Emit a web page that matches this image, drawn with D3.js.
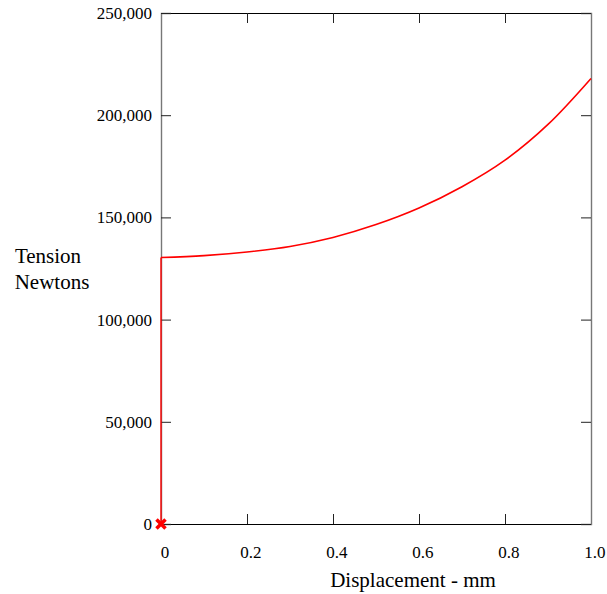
<!DOCTYPE html>
<html>
<head>
<meta charset="utf-8">
<script src="https://cdn.jsdelivr.net/npm/d3@7"></script>
<style>
  body { margin: 0; background: #fff; }
  text { font-family: "Liberation Serif", "Times New Roman", serif; }
</style>
</head>
<body>
<svg id="chart" width="607" height="594"></svg>
<script>
// displacement (mm) and tension (N)
var displacement = [0, 0.1, 0.2, 0.3, 0.4, 0.5, 0.6, 0.7, 0.8, 0.9, 1.0];
var tension = [130400, 131300, 133100, 135800, 140200, 146500, 154600, 165000, 178000, 195500, 218000];
var xTicks = [0, 0.2, 0.4, 0.6, 0.8, 1.0];
var yTicks = [0, 50000, 100000, 150000, 200000, 250000];
var startPoint = {x: 0, y: 0};

var svg = d3.select("#chart"),
	margin = {top: 13, right: 16, bottom: 70, left: 161},
	width = +svg.attr("width"),
	height = +svg.attr("height");

var xScale = d3.scaleLinear()
	.domain([0, 1])
	.range([margin.left, width - margin.right]);

var yScale = d3.scaleLinear()
	.domain([0, 250000])
	.range([height - margin.bottom, margin.top]);

var fmtY = d3.format(",");
var fmtX = d => d === 0 ? "0" : d3.format(".1f")(d);

// bottom axis, ticks point up into the plot
var xAxis = svg.append("g")
	.attr("transform", `translate(0, ${yScale(0)})`)
	.call(d3.axisBottom(xScale).tickValues(xTicks).tickSize(-10).tickPadding(22).tickFormat(fmtX));
xAxis.select(".domain").attr("stroke", "#000");
xAxis.selectAll(".tick text").attr("dx", "0.2em");

// top axis, no labels
svg.append("g")
	.attr("transform", `translate(0, ${yScale(250000)})`)
	.call(d3.axisTop(xScale).tickValues(xTicks).tickSize(-10).tickFormat(""));

// left axis
var yAxis = svg.append("g")
	.attr("transform", `translate(${xScale(0)}, 0)`)
	.call(d3.axisLeft(yScale).tickValues(yTicks).tickSize(-10).tickPadding(9).tickFormat(fmtY));
yAxis.select(".domain").attr("stroke", "#777").attr("stroke-width", 1.4);

// right axis
var rAxis = svg.append("g")
	.attr("transform", `translate(${xScale(1)}, 0)`)
	.call(d3.axisRight(yScale).tickValues(yTicks).tickSize(-10).tickFormat(""));
rAxis.select(".domain").attr("stroke", "#777").attr("stroke-width", 1.4);

svg.selectAll(".tick text")
	.attr("font-family", "Liberation Serif")
	.attr("font-size", "17px")
	.attr("fill", "#000");
svg.selectAll(".tick line").attr("stroke", "#222");

// vertical rise at zero displacement
svg.append("line")
	.attr("x1", xScale(startPoint.x))
	.attr("x2", xScale(displacement[0]))
	.attr("y1", yScale(startPoint.y))
	.attr("y2", yScale(tension[0]))
	.attr("stroke", "#f00")
	.attr("stroke-width", 1.4);

var line = d3.line()
	.x((d, i) => xScale(displacement[i]))
	.y(d => yScale(d))
	.curve(d3.curveCatmullRom);

svg.append("path")
	.datum(tension)
	.attr("fill", "none")
	.attr("stroke", "#f00")
	.attr("stroke-width", 1.6)
	.attr("d", line);

// start marker
svg.append("path")
	.attr("d", d3.symbol(d3.symbolX, 55)())
	.attr("transform", `translate(${xScale(startPoint.x)}, ${yScale(startPoint.y)})`)
	.attr("stroke", "#f00")
	.attr("stroke-width", 3.5)
	.attr("fill", "none");

//axis titles
svg.append("text")
	.attr("x", 413)
	.attr("y", 587)
	.attr("text-anchor", "middle")
	.attr("font-size", "21px")
	.text("Displacement - mm");

svg.append("text")
	.attr("x", 48)
	.attr("y", 263)
	.attr("text-anchor", "middle")
	.attr("font-size", "21px")
	.text("Tension");

svg.append("text")
	.attr("x", 52)
	.attr("y", 289)
	.attr("text-anchor", "middle")
	.attr("font-size", "21px")
	.text("Newtons");
</script>
</body>
</html>
